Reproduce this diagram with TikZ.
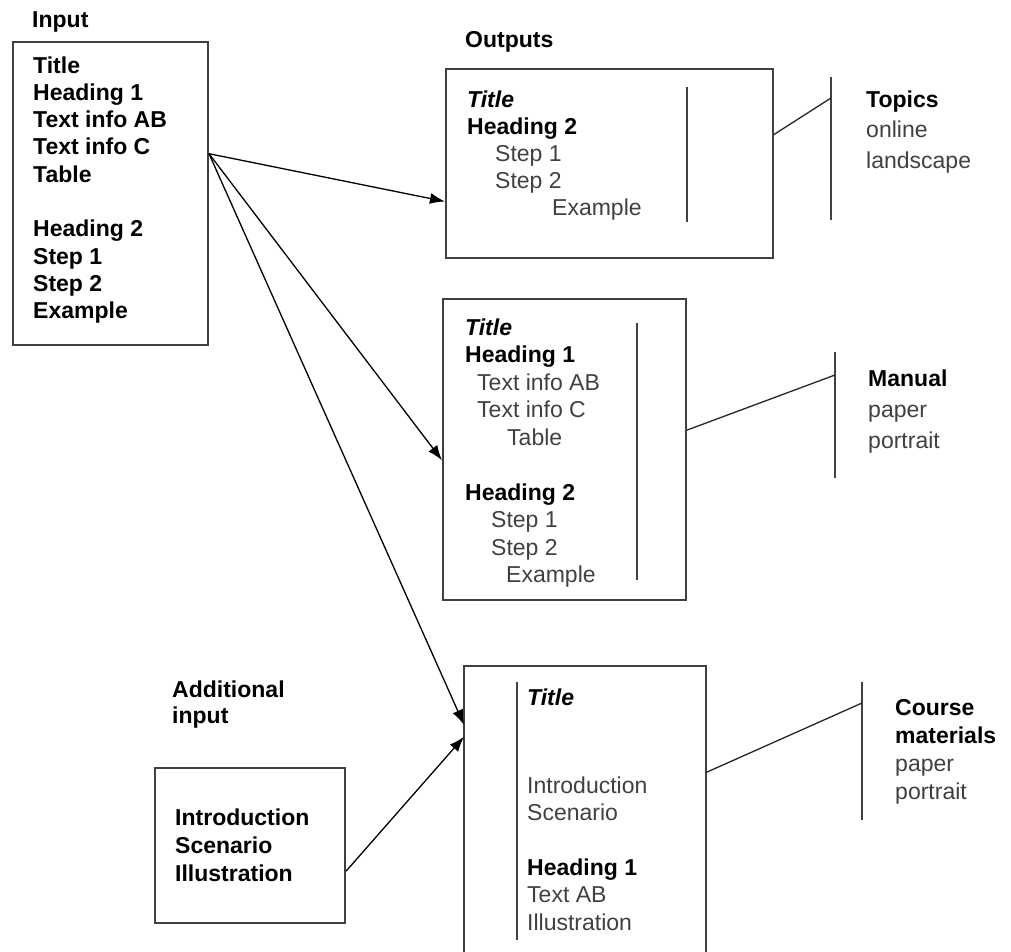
\documentclass[tikz,border=0pt]{standalone}
\usepackage{fontspec}
\setmainfont{Liberation Sans}
\usetikzlibrary{arrows.meta}

\newcommand{\hdg}[1]{{\color{black}\bfseries #1}}

\tikzset{
  box/.style={draw=black!75, line width=2pt, inner sep=0pt},
  % multi-line blocks are placed by the baseline of their last line
  blk/.style={align=left, inner sep=0pt, anchor=base west, text=black!75,
    font=\fontsize{23}{27.4}\selectfont},
  bld/.style={blk, text=black, font=\fontsize{23}{27.3}\selectfont\bfseries},
  rule/.style={draw=black!75, line width=2pt},
  link/.style={draw=black!85, line width=1.3pt},
  arr/.style={-{Latex[length=15pt,width=11pt]}, line width=1.3pt},
}

\begin{document}
\begin{tikzpicture}[x=1pt, y=-1pt]
  \useasboundingbox (0,0) rectangle (1011,952);

  % boxes
  \node[box, minimum width=195pt, minimum height=303pt] (inbox) at (110.5,193.5) {};
  \node[box, minimum width=327pt, minimum height=189pt] (topbox) at (609.5,163.5) {};
  \node[box, minimum width=243pt, minimum height=301pt] (midbox) at (564.5,449.5) {};
  \node[box, draw=none, minimum width=240pt, minimum height=285pt] (botbox) at (585,809.5) {};
  \draw[box] (botbox.south west) |- (botbox.north east) -- (botbox.south east);
  \node[box, minimum width=190pt, minimum height=155pt] (addbox) at (250,845.5) {};

  % labels
  \node[bld] (inlabel) at (32,28) {Input};
  \node[bld] (outlabel) at (465,48) {Outputs};
  \node[bld, font=\fontsize{23}{26}\selectfont\bfseries] (addlabel) at (172,723) {Additional\\ input};

  % input text
  \node[bld] (intext) at (33,318.7) {Title\\ Heading 1\\ Text info AB\\ Text info C\\ Table\\ \\
    Heading 2\\ Step 1\\ Step 2\\ Example};
  \node[bld, font=\fontsize{23}{28.3}\selectfont\bfseries] (addtext) at (175,881.6)
    {Introduction\\ Scenario\\ Illustration};

  % output texts
  \node[blk, font=\fontsize{23}{27}\selectfont] (toptext) at (467,215)
    {\hdg{\itshape Title}\\ \hdg{Heading 2}\\ \hspace*{28pt}Step 1\\ \hspace*{28pt}Step 2\\
     \hspace*{85pt}Example};
  \node[blk, font=\fontsize{23}{27.5}\selectfont] (midtext) at (465,582.5)
    {\hdg{\itshape Title}\\ \hdg{Heading 1}\\ \hspace*{12pt}Text info AB\\ \hspace*{12pt}Text info C\\
     \hspace*{42pt}Table\\ \\ \hdg{Heading 2}\\ \hspace*{26pt}Step 1\\ \hspace*{26pt}Step 2\\
     \hspace*{41pt}Example};
  \node[blk] (bottitle) at (527,705) {\hdg{\itshape Title}};
  \node[blk] (bottext) at (527,930)
    {Introduction\\ Scenario\\ \\ \hdg{Heading 1}\\ Text AB\\ Illustration};

  % inner lines
  \draw[rule] (687,87) -- (687,222);
  \draw[rule] (637,323) -- (637,580);
  \draw[rule] (517,682) -- (517,940);

  % media labels
  \node[blk, font=\fontsize{23}{31}\selectfont] (topics) at (866,169) {\hdg{Topics}\\ online\\ landscape};
  \node[blk, font=\fontsize{23}{31}\selectfont] (manual) at (868,448) {\hdg{Manual}\\ paper\\ portrait};
  \node[blk, font=\fontsize{23}{28}\selectfont] (course) at (895,799)
    {\hdg{Course}\\ \hdg{materials}\\ paper\\ portrait};

  % brackets
  \draw[rule] (831,77) -- (831,220);
  \draw[rule] (835,352) -- (835,478);
  \draw[rule] (862,682) -- (862,820);
  \coordinate (topicsjoin) at (831,98);
  \coordinate (manualjoin) at (835,375);
  \coordinate (coursejoin) at (862,703);
  \draw[link] (topbox.10.9) -- (topicsjoin);
  \draw[link] (midbox.9.1) -- (manualjoin);
  \draw[link] (botbox.17.4) -- (coursejoin);

  % arrows
  \draw[arr] (inbox.22.6) -- (topbox.193.6);
  \draw[arr] (inbox.22.6) -- (midbox.185.9);
  \draw[arr] (inbox.22.6) -- (botbox.145.8);
  \draw[arr] (addbox.345.5) -- (botbox.149.9);
\end{tikzpicture}
\end{document}
